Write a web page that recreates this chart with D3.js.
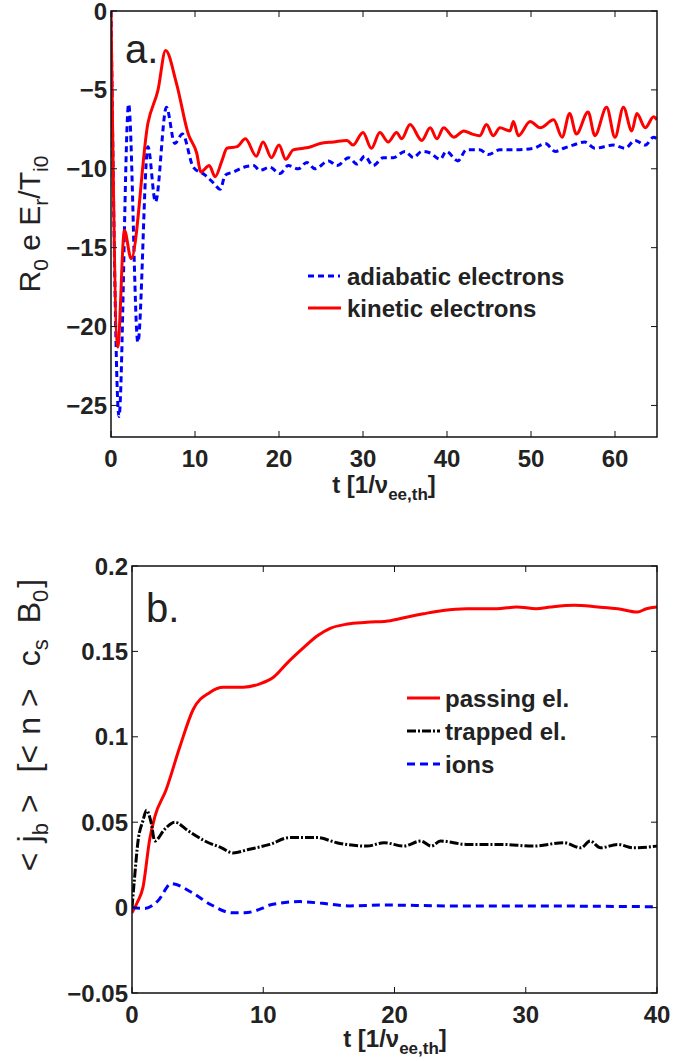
<html>
<head>
<script src="https://d3js.org/d3.v7.min.js"></script>
<style>
  body { margin: 0; background: #fff; }
  text { font-family: "Liberation Sans", Arial, Helvetica, sans-serif; fill: #222; }
</style>
</head>
<body>
<script>
// panel a: radial electric field
const tA = [0,0.95,2.1,3.2,4.4,5.3,6.6,7.6,8.5,9.8,11.2,12.2,13.0,13.6,14.6,15.8,17.0,17.7,18.9,20.1,21.1,22.3,23.3,24.3,25.9,26.9,28.3,29.3,30.2,31.2,32.4,33.6,35.0,36.0,37.0,38.0,39.2,39.9,41.3,42.3,43.9,44.9,46.3,47.9,50.3,51.7,52.9,53.9,55.0,56.4,57.6,59.8,61.2,62.4,63.6,64.6,65];
const adiabatic = [0,-25.7,-5.9,-21.0,-8.6,-12.1,-6.1,-8.4,-7.8,-9.9,-10.4,-10.9,-11.3,-10.4,-10.2,-9.9,-9.8,-10.1,-9.9,-10.3,-9.8,-10.0,-9.6,-10.0,-9.5,-9.8,-9.3,-9.7,-9.2,-9.8,-9.3,-9.3,-8.9,-9.3,-8.9,-9.0,-9.4,-8.9,-9.5,-8.8,-8.8,-9.1,-8.8,-8.8,-8.7,-8.4,-8.9,-8.7,-8.5,-8.3,-8.7,-8.5,-8.7,-8.2,-8.5,-8.0,-8.1];
const tK = [0,0.8,1.6,2.4,4.4,5.6,6.5,7.8,9.2,10.2,10.7,11.7,12.4,13.2,13.8,15.0,16.0,17.3,18.1,19.1,20.0,20.8,21.7,22.9,23.8,24.9,26.5,28.1,28.8,30.0,31.0,32.0,33.0,34.0,34.6,35.6,37.0,38.0,38.8,39.6,40.8,42.0,43.0,43.9,44.7,45.5,46.3,47.5,47.9,48.5,49.9,51.1,52.7,53.7,54.6,55.4,56.8,57.6,59.0,60.0,61.0,62.0,62.6,63.6,64.6,65];
const kinetic = [0,-21.3,-13.9,-15.7,-7.1,-5.0,-2.5,-4.6,-7.8,-9.0,-10.2,-9.8,-10.5,-9.5,-8.7,-8.6,-8.1,-9.2,-8.3,-9.3,-8.5,-9.4,-8.8,-8.7,-8.6,-8.4,-8.3,-8.2,-8.5,-7.7,-8.7,-7.7,-8.3,-7.7,-8.1,-7.2,-8.2,-7.4,-8.1,-7.4,-8.0,-7.6,-7.8,-7.9,-7.2,-7.9,-7.4,-7.6,-7.0,-7.9,-7.0,-7.4,-6.9,-8.0,-6.5,-7.8,-6.4,-7.9,-6.1,-8.0,-6.1,-7.6,-6.5,-7.4,-6.7,-6.9];
const xTicksA = [0,10,20,30,40,50,60];
const yTicksA = [0,-5,-10,-15,-20,-25];

// panel b: bootstrap current
const tP = [0,0.4,0.84,1.35,1.73,2.6,3.64,4.66,5.93,6.95,8.47,9.75,10.8,11.8,13.05,14.1,15.1,16.4,17.9,19.7,20.9,22.2,23.7,25.5,27.8,29.3,30.8,31.9,33.7,35.5,37.0,38.5,39.2,40];
const passing = [-0.003,0.003,0.012,0.040,0.053,0.069,0.094,0.116,0.126,0.129,0.129,0.131,0.135,0.143,0.152,0.159,0.1635,0.166,0.167,0.168,0.170,0.172,0.174,0.175,0.175,0.176,0.175,0.176,0.177,0.176,0.175,0.173,0.175,0.176];
const tT = [0,0.2,0.46,0.84,1.1,1.48,1.73,2.5,3.26,4.27,5.55,6.82,7.7,8.86,10.5,12.0,14.1,15.6,17.9,19.2,20.7,22.0,22.8,23.5,25.5,28.1,30.6,32.9,34.2,34.9,35.7,37.0,38.2,40];
const trapped = [0,0.018,0.039,0.051,0.057,0.049,0.039,0.046,0.050,0.045,0.039,0.035,0.032,0.034,0.037,0.041,0.041,0.038,0.036,0.038,0.036,0.039,0.036,0.039,0.037,0.037,0.036,0.038,0.035,0.039,0.035,0.037,0.035,0.036];
const tI = [0,0.97,1.98,3.0,4.53,6.06,7.6,8.6,9.9,10.5,12.8,14.5,16.6,19.1,24.2,30,35,40];
const ions = [0,-0.0005,0.004,0.014,0.009,0.0015,-0.003,-0.003,-0.0005,0.0015,0.0035,0.0025,0.001,0.0015,0.001,0.001,0.0008,0.0005];
const xTicksB = [0,10,20,30,40];
const yTicksB = [-0.05,0,0.05,0.1,0.15,0.2];
const yTickLabelsB = ["\u22120.05","0","0.05","0.1","0.15","0.2"];

let width = 694, height = 1061;
let svg = d3.select("body").append("svg")
  .attr("width", width)
  .attr("height", height);

function zip(ts, vs){ return ts.map((t, i) => ({t: t, v: vs[i]})); }

// draws frame, ticks (all four sides), tick labels
function drawAxes(g, x, y, xt, yt, ytl, yLabelX){
  let [x0, x1] = x.range(), [y1, y0] = y.range();
  g.append("rect").attr("x", x0).attr("y", y0).attr("width", x1 - x0).attr("height", y1 - y0)
    .attr("fill", "none").attr("stroke", "#111").attr("stroke-width", 1.5);
  let tl = 6;
  xt.forEach(d => {
    g.append("line").attr("x1", x(d)).attr("x2", x(d)).attr("y1", y1).attr("y2", y1 - tl).attr("stroke", "#111");
    g.append("line").attr("x1", x(d)).attr("x2", x(d)).attr("y1", y0).attr("y2", y0 + tl).attr("stroke", "#111");
    g.append("text").attr("x", x(d)).attr("y", y1 + 30).attr("text-anchor", "middle")
      .attr("font-size", 24).attr("font-weight", "bold").text(d);
  });
  yt.forEach((d, i) => {
    g.append("line").attr("x1", x0).attr("x2", x0 + tl).attr("y1", y(d)).attr("y2", y(d)).attr("stroke", "#111");
    g.append("line").attr("x1", x1).attr("x2", x1 - tl).attr("y1", y(d)).attr("y2", y(d)).attr("stroke", "#111");
    g.append("text").attr("x", yLabelX).attr("y", y(d) + 8.5).attr("text-anchor", "end")
      .attr("font-size", 24).attr("font-weight", "bold").text(ytl[i]);
  });
}

// x label with subscript
function xLabel(g, cx, by){
  let t = g.append("text").attr("x", cx).attr("y", by).attr("text-anchor", "middle")
    .attr("font-size", 24).attr("font-weight", "bold");
  t.append("tspan").text("t [1/\u03bd");
  t.append("tspan").attr("font-size", 17).attr("dy", 7).text("ee,th");
  t.append("tspan").attr("dy", -7).text("]");
}

// ---------- panel a ----------
let xa = d3.scaleLinear().domain([0, 65]).range([111, 657]);
let ya = d3.scaleLinear().domain([-27, 0]).range([437, 11]);
let ga = svg.append("g");
svg.append("clipPath").attr("id", "clipA").append("rect")
  .attr("x", 111).attr("y", 11).attr("width", 546).attr("height", 426);

let lineA = d3.line().x(d => xa(d.t)).y(d => ya(d.v)).curve(d3.curveMonotoneX);
ga.append("path").datum(zip(tA, adiabatic)).attr("d", lineA).attr("clip-path", "url(#clipA)")
  .attr("fill", "none").attr("stroke", "#0000ff").attr("stroke-width", 3).attr("stroke-dasharray", "6,4");
ga.append("path").datum(zip(tK, kinetic)).attr("d", lineA).attr("clip-path", "url(#clipA)")
  .attr("fill", "none").attr("stroke", "#ff0000").attr("stroke-width", 3).attr("stroke-linejoin", "round");

drawAxes(ga, xa, ya, xTicksA, yTicksA, yTicksA.map(d => d < 0 ? "\u2212" + (-d) : "" + d), 107);
xLabel(ga, 384, 493);

ga.append("text").attr("x", 125).attr("y", 63).attr("font-size", 40).text("a.");

let yla = ga.append("text").attr("transform", "translate(40,224) rotate(-90)")
  .attr("text-anchor", "middle").attr("font-size", 30);
yla.append("tspan").text("R");
yla.append("tspan").attr("font-size", 21).attr("dy", 8).text("0");
yla.append("tspan").attr("dy", -8).text(" e E");
yla.append("tspan").attr("font-size", 21).attr("dy", 8).text("r");
yla.append("tspan").attr("dy", -8).text("/T");
yla.append("tspan").attr("font-size", 21).attr("dy", 8).text("i0");

// legend a
ga.append("line").attr("x1", 308).attr("x2", 340).attr("y1", 276).attr("y2", 276)
  .attr("stroke", "#0000ff").attr("stroke-width", 3).attr("stroke-dasharray", "6,4");
ga.append("text").attr("x", 347).attr("y", 285).attr("font-size", 24).attr("font-weight", "bold").text("adiabatic electrons");
ga.append("line").attr("x1", 308).attr("x2", 341).attr("y1", 308).attr("y2", 308)
  .attr("stroke", "#ff0000").attr("stroke-width", 3);
ga.append("text").attr("x", 347).attr("y", 317).attr("font-size", 24).attr("font-weight", "bold").text("kinetic electrons");

// ---------- panel b ----------
let xb = d3.scaleLinear().domain([0, 40]).range([132, 657]);
let yb = d3.scaleLinear().domain([-0.05, 0.2]).range([993, 566]);
let gb = svg.append("g");
svg.append("clipPath").attr("id", "clipB").append("rect")
  .attr("x", 132).attr("y", 566).attr("width", 525).attr("height", 427);

let lineB = d3.line().x(d => xb(d.t)).y(d => yb(d.v)).curve(d3.curveMonotoneX);
gb.append("path").datum(zip(tP, passing)).attr("d", lineB).attr("clip-path", "url(#clipB)")
  .attr("fill", "none").attr("stroke", "#ff0000").attr("stroke-width", 3);
gb.append("path").datum(zip(tT, trapped)).attr("d", lineB).attr("clip-path", "url(#clipB)")
  .attr("fill", "none").attr("stroke", "#000").attr("stroke-width", 3).attr("stroke-dasharray", "9,2,2,2");
gb.append("path").datum(zip(tI, ions)).attr("d", lineB).attr("clip-path", "url(#clipB)")
  .attr("fill", "none").attr("stroke", "#0000ff").attr("stroke-width", 3).attr("stroke-dasharray", "8,5");

drawAxes(gb, xb, yb, xTicksB, yTicksB, yTickLabelsB, 128);
xLabel(gb, 395, 1047);

gb.append("text").attr("x", 146).attr("y", 622).attr("font-size", 40).text("b.");

// tex-like spacing around the < > relations
let ylb = gb.append("text").attr("transform", "translate(40,725) rotate(-90)")
  .attr("text-anchor", "middle").attr("font-size", 32);
let parts = [
  ["<", 0, 0, 32], ["j", 0, 10, 32], ["b", 8, 0, 22], [">", -8, 10, 32],
  ["[", 0, 22, 32], ["<", 0, 0, 32], ["n", 0, 10, 32], [">", 0, 10, 32],
  ["c", 0, 22, 32], ["s", 8, 0, 22], ["B", -8, 16, 32], ["0", 8, 0, 22], ["]", -8, 2, 32]
];
parts.forEach(p => {
  ylb.append("tspan").attr("dy", p[1]).attr("dx", p[2]).attr("font-size", p[3]).text(p[0]);
});

// legend b
let legB = [
  {name: "passing el.", color: "#ff0000", dash: null},
  {name: "trapped el.", color: "#000", dash: "9,2,2,2"},
  {name: "ions", color: "#0000ff", dash: "8,5"}
];
legB.forEach((d, i) => {
  let yy = 698 + i * 33;
  gb.append("line").attr("x1", 407).attr("x2", 440).attr("y1", yy).attr("y2", yy)
    .attr("stroke", d.color).attr("stroke-width", 3).attr("stroke-dasharray", d.dash);
  gb.append("text").attr("x", 445).attr("y", yy + 9).attr("font-size", 24).attr("font-weight", "bold").text(d.name);
});
</script>
</body>
</html>
